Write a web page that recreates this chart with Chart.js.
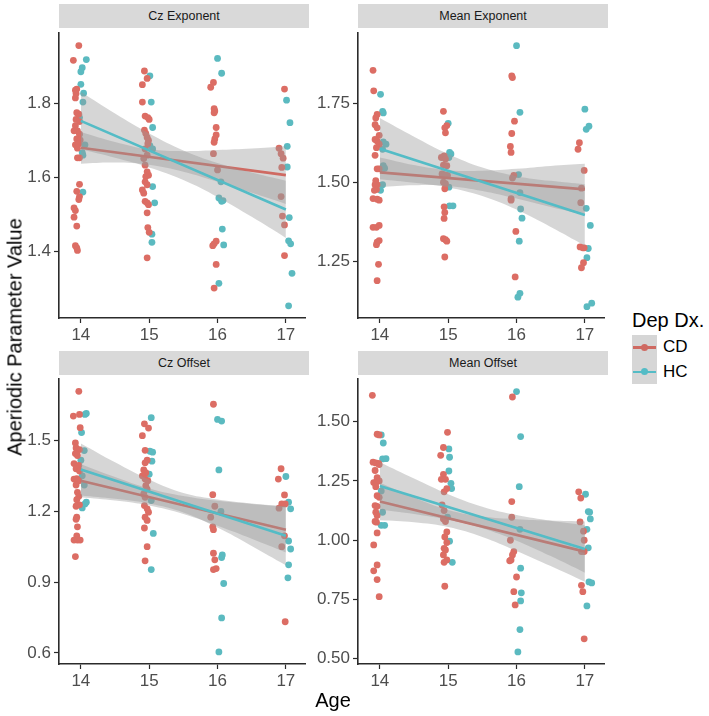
<!DOCTYPE html>
<html>
<head>
<meta charset="utf-8">
<script src="https://cdn.jsdelivr.net/npm/chart.js@4.4.1/dist/chart.umd.min.js"></script>
<style>
  body { margin: 0; background: #fff; }
  #fig { position: relative; width: 709px; height: 716px; background: #fff;
         font-family: "Liberation Sans", Arial, Helvetica, sans-serif; }
  #fig canvas { position: absolute; }
  .strip { position: absolute; height: 24px; width: 250px; background: #d9d9d9;
           color: #1a1a1a; font-size: 12.5px; line-height: 24px; text-align: center; }
  .title { position: absolute; color: #000; font-size: 20px; white-space: nowrap; }
  .key { position: absolute; left: 632px; width: 25px; height: 24.5px; background: #d6d6d6; }
  .key .ln { position: absolute; left: 1px; right: 1px; top: 11px; height: 2.5px; }
  .key .pt { position: absolute; left: 9px; top: 8.8px; width: 7px; height: 7px; border-radius: 50%; }
  .lab { position: absolute; left: 663px; font-size: 17px; color: #000; }
</style>
</head>
<body>
<div id="fig">
  <div class="strip" style="left:59px;top:4px">Cz Exponent</div>
  <div class="strip" style="left:358px;top:4px">Mean Exponent</div>
  <div class="strip" style="left:59px;top:351px">Cz Offset</div>
  <div class="strip" style="left:358px;top:351px">Mean Offset</div>

  <canvas id="p1" width="309" height="316" style="left:0;top:29px"></canvas>
  <canvas id="p2" width="299" height="316" style="left:309px;top:29px"></canvas>
  <canvas id="p3" width="309" height="316" style="left:0;top:375px"></canvas>
  <canvas id="p4" width="299" height="316" style="left:309px;top:375px"></canvas>

  <div class="title" style="left:15px;top:337px;transform:translate(-50%,-50%) rotate(-90deg)">Aperiodic Parameter Value</div>
  <div class="title" style="left:333px;top:700px;transform:translate(-50%,-50%)">Age</div>

  <div class="title" style="left:632px;top:320px;transform:translateY(-50%)">Dep Dx.</div>
  <div class="key" style="top:335px"><div class="ln" style="background:#cf6a62"></div><div class="pt" style="background:#cf6a62"></div></div>
  <div class="key" style="top:359.5px"><div class="ln" style="background:#54bcc6"></div><div class="pt" style="background:#54bcc6"></div></div>
  <div class="lab" style="top:347px;transform:translateY(-50%)">CD</div>
  <div class="lab" style="top:372px;transform:translateY(-50%)">HC</div>
</div>

<script>
// ages on the x axis and the ages where the confidence bands were read
const ages = [14, 15, 16, 17];
const bandAges = [14, 14.5, 15, 15.5, 16, 16.5, 17];

// y tick labels for each facet
const czExpTicks = [1.4, 1.6, 1.8];
const meanExpTicks = [1.25, 1.5, 1.75];
const czOffTicks = [0.6, 0.9, 1.2, 1.5];
const meanOffTicks = [0.5, 0.75, 1.0, 1.25, 1.5];

// ---- Cz Exponent: [jittered age, value]
const czExpCD = [[13.97,1.957],[13.89,1.917],[13.94,1.839],[13.92,1.836],[13.93,1.827],[13.92,1.815],[13.94,1.775],[13.97,1.771],[13.93,1.757],[13.98,1.751],[13.92,1.74],[13.90,1.726],[13.95,1.726],[13.98,1.717],[13.94,1.704],[13.99,1.701],[13.92,1.688],[13.97,1.691],[13.95,1.679],[13.95,1.653],[13.98,1.653],[13.98,1.581],[13.94,1.562],[13.98,1.548],[13.97,1.54],[13.90,1.517],[13.92,1.51],[13.90,1.492],[13.94,1.468],[13.92,1.415],[13.94,1.409],[13.95,1.402],
  [14.93,1.888],[14.97,1.868],[14.90,1.851],[14.90,1.804],[14.94,1.766],[14.98,1.762],[15.00,1.757],[14.93,1.728],[14.95,1.719],[14.97,1.708],[14.99,1.70],[14.98,1.691],[14.94,1.677],[14.97,1.66],[14.92,1.651],[14.94,1.633],[14.97,1.615],[14.99,1.606],[14.95,1.602],[14.94,1.588],[14.97,1.58],[14.90,1.566],[14.92,1.557],[14.94,1.535],[14.97,1.531],[14.99,1.526],[14.97,1.504],[14.98,1.464],[15.00,1.451],[14.97,1.382],
  [15.94,1.857],[15.90,1.844],[15.95,1.786],[15.96,1.78],[15.95,1.775],[15.98,1.735],[15.98,1.715],[15.96,1.704],[15.95,1.695],[15.94,1.664],[16.00,1.62],[15.93,1.415],[15.98,1.427],[15.95,1.42],[15.98,1.364],[15.95,1.30],
  [16.98,1.839],[16.90,1.679],[16.93,1.664],[16.96,1.652],[16.94,1.627],[16.93,1.548],[16.95,1.495],[16.98,1.471],[16.98,1.388]];
const czExpHC = [[14.08,1.919],[14.02,1.897],[14.00,1.886],[14.00,1.852],[14.04,1.828],[14.03,1.804],[13.98,1.762],[14.06,1.688],[14.02,1.667],[14.03,1.66],[14.03,1.56],
  [15.01,1.875],[15.03,1.804],[15.05,1.735],[15.01,1.686],[15.05,1.677],[15.05,1.575],[15.08,1.531],[15.04,1.446],[15.04,1.424],
  [16.00,1.922],[16.06,1.882],[16.05,1.588],[16.02,1.544],[16.06,1.535],[16.08,1.537],[16.07,1.46],[16.09,1.417],[16.02,1.313],
  [17.01,1.809],[17.06,1.748],[17.02,1.684],[17.02,1.628],[17.05,1.491],[17.04,1.428],[17.07,1.42],[17.09,1.34],[17.04,1.252]];
const czExpFitCD = [1.680, 1.606];   // at 14 and 17
const czExpFitHC = [1.753, 1.513];
const czExpHiCD = [1.723, 1.696, 1.676, 1.671, 1.674, 1.678, 1.684];
const czExpLoCD = [1.637, 1.640, 1.634, 1.615, 1.588, 1.558, 1.528];
const czExpHiHC = [1.831, 1.773, 1.719, 1.673, 1.639, 1.613, 1.591];
const czExpLoHC = [1.676, 1.653, 1.627, 1.593, 1.547, 1.493, 1.436];

// ---- Mean Exponent
const meanExpCD = [[13.90,1.856],[13.91,1.791],[13.96,1.716],[13.94,1.705],[13.93,1.684],[13.96,1.674],[13.99,1.65],[13.93,1.637],[13.96,1.632],[13.99,1.622],[13.95,1.611],[13.93,1.587],[13.96,1.544],[13.99,1.544],[13.94,1.507],[13.96,1.494],[13.93,1.494],[13.95,1.479],[13.92,1.476],[13.90,1.45],[13.96,1.448],[13.99,1.445],[13.90,1.359],[13.95,1.359],[13.99,1.365],[13.99,1.317],[13.96,1.312],[13.95,1.304],[13.98,1.242],[13.96,1.19],
  [14.93,1.726],[14.98,1.681],[14.95,1.674],[14.96,1.658],[14.90,1.58],[14.94,1.585],[14.96,1.575],[14.93,1.556],[14.98,1.554],[14.91,1.528],[14.95,1.525],[14.99,1.523],[14.93,1.502],[14.96,1.497],[14.95,1.481],[14.94,1.424],[14.95,1.406],[14.94,1.387],[14.93,1.323],[14.96,1.32],[14.98,1.315],[14.95,1.265],
  [15.93,1.838],[15.94,1.833],[15.97,1.695],[15.93,1.656],[15.91,1.615],[15.92,1.596],[15.96,1.523],[15.94,1.515],[15.92,1.45],[15.92,1.445],[15.99,1.346],[15.98,1.202],
  [16.92,1.627],[16.90,1.606],[16.99,1.539],[16.95,1.483],[16.94,1.437],[16.93,1.297],[16.97,1.294],[16.99,1.294],[16.98,1.247],[16.95,1.231]];
const meanExpHC = [[14.01,1.78],[14.04,1.726],[14.05,1.721],[14.05,1.629],[14.09,1.622],[14.04,1.606],[14.05,1.554],[14.07,1.546],[14.04,1.544],[14.04,1.494],[14.01,1.476],
  [15.00,1.688],[15.02,1.596],[15.04,1.591],[15.01,1.58],[15.01,1.486],[15.02,1.427],[15.07,1.427],
  [16.00,1.934],[16.05,1.723],[16.03,1.526],[16.05,1.469],[16.06,1.417],[16.08,1.388],[16.04,1.315],[16.05,1.15],[16.02,1.138],
  [17.00,1.733],[17.02,1.669],[17.06,1.679],[17.02,1.419],[17.08,1.365],[17.05,1.292],[17.03,1.263],[17.03,1.108],[17.10,1.119]];
const meanExpFitCD = [1.533, 1.479];
const meanExpFitHC = [1.608, 1.398];
const meanExpHiCD = [1.580, 1.556, 1.540, 1.538, 1.544, 1.553, 1.560];
const meanExpLoCD = [1.486, 1.492, 1.490, 1.474, 1.450, 1.423, 1.398];
const meanExpHiHC = [1.705, 1.646, 1.591, 1.548, 1.521, 1.506, 1.495];
const meanExpLoHC = [1.511, 1.500, 1.485, 1.458, 1.415, 1.360, 1.301];

// ---- Cz Offset
const czOffCD = [[13.97,1.708],[13.89,1.603],[13.98,1.61],[13.99,1.554],[13.92,1.489],[13.93,1.468],[13.98,1.461],[13.92,1.444],[13.95,1.436],[13.90,1.402],[13.97,1.394],[13.93,1.38],[13.98,1.37],[13.90,1.336],[13.94,1.338],[13.97,1.329],[13.93,1.311],[13.95,1.28],[13.97,1.263],[13.94,1.249],[13.98,1.227],[13.93,1.221],[13.94,1.175],[13.93,1.166],[13.95,1.134],[13.94,1.096],[13.90,1.078],[13.95,1.078],[13.99,1.078],[13.92,1.008],
  [14.93,1.57],[14.99,1.552],[14.90,1.52],[14.94,1.458],[14.97,1.416],[14.94,1.405],[14.92,1.375],[14.95,1.363],[14.90,1.35],[14.94,1.336],[14.98,1.329],[14.95,1.308],[14.97,1.294],[14.92,1.273],[14.94,1.259],[14.93,1.224],[14.97,1.21],[14.99,1.196],[14.94,1.175],[14.97,1.161],[14.93,1.129],[14.97,1.05],[14.94,0.99],
  [15.94,1.653],[15.93,1.27],[15.96,1.221],[15.90,1.175],[15.93,1.134],[15.94,1.122],[15.94,1.022],[15.96,0.994],[15.94,0.953],[15.98,0.957],
  [16.93,1.38],[16.89,1.336],[16.98,1.269],[16.94,1.231],[16.99,1.231],[16.90,1.213],[16.98,1.096],[16.94,1.05],[16.99,0.732]];
const czOffHC = [[14.06,1.61],[14.08,1.614],[14.01,1.533],[14.05,1.457],[14.00,1.416],[14.02,1.35],[14.05,1.311],[14.08,1.238],[14.06,1.231],[14.02,1.214],
  [15.03,1.596],[15.01,1.454],[15.05,1.45],[15.04,1.412],[15.00,1.357],[15.03,1.245],[15.06,1.106],[15.03,0.953],
  [16.00,1.589],[16.06,1.582],[16.02,1.375],[16.05,1.199],[16.07,1.015],[16.06,1.004],[16.09,0.894],[16.06,0.748],[16.02,0.604],
  [17.00,1.347],[17.04,1.238],[17.07,1.21],[17.04,1.074],[17.07,1.04],[17.04,0.973],[17.03,0.918]];
const czOffFitCD = [1.329, 1.122];
const czOffFitHC = [1.377, 1.096];
const czOffHiCD = [1.399, 1.345, 1.296, 1.264, 1.244, 1.231, 1.219];
const czOffLoCD = [1.259, 1.245, 1.224, 1.188, 1.138, 1.083, 1.025];
const czOffHiHC = [1.487, 1.407, 1.333, 1.277, 1.250, 1.233, 1.221];
const czOffLoHC = [1.267, 1.253, 1.233, 1.195, 1.131, 1.053, 0.971];

// ---- Mean Offset
const meanOffCD = [[13.89,1.611],[13.96,1.447],[13.99,1.444],[13.90,1.329],[13.94,1.326],[13.98,1.324],[13.99,1.319],[13.93,1.294],[13.96,1.264],[13.91,1.243],[13.95,1.246],[13.99,1.25],[13.94,1.226],[13.96,1.188],[13.99,1.181],[13.93,1.146],[13.96,1.143],[13.94,1.118],[13.96,1.104],[13.93,1.079],[13.95,1.076],[13.96,1.031],[13.91,0.98],[13.96,0.896],[13.91,0.871],[13.96,0.834],[13.99,0.762],
  [14.99,1.455],[14.93,1.391],[14.89,1.358],[14.93,1.278],[14.90,1.257],[14.96,1.257],[14.98,1.218],[14.94,1.204],[14.91,1.149],[14.94,1.125],[14.93,1.09],[14.96,1.079],[14.98,1.035],[14.95,1.014],[14.98,0.99],[14.94,0.966],[14.96,0.959],[14.93,0.938],[14.98,0.917],[14.94,0.907],[14.95,0.806],
  [15.94,1.604],[15.93,1.163],[15.93,1.097],[15.91,1.0],[15.96,0.952],[15.94,0.938],[15.92,0.917],[15.90,0.913],[16.00,0.845],[15.96,0.783],[15.98,0.727],
  [16.91,1.204],[16.94,1.178],[16.93,1.077],[16.98,1.038],[16.99,1.0],[16.95,0.952],[16.99,0.952],[16.95,0.81],[16.97,0.783],[16.99,0.584]];
const meanOffHC = [[14.02,1.444],[14.05,1.41],[14.04,1.343],[14.09,1.344],[14.02,1.208],[14.04,1.118],[14.02,1.063],[14.07,1.063],
  [15.01,1.385],[15.02,1.35],[15.01,1.292],[15.04,1.24],[15.05,1.218],[14.99,1.097],[15.02,0.996],[15.06,0.907],
  [16.00,1.627],[16.06,1.437],[16.04,1.226],[16.05,1.046],[16.06,0.882],[16.07,0.778],[16.06,0.744],[16.05,0.623],[16.02,0.529],
  [17.01,1.194],[17.05,1.121],[17.07,1.118],[17.08,1.09],[17.03,1.046],[17.05,0.968],[17.06,0.824],[17.10,0.82],[17.03,0.723]];
const meanOffFitCD = [1.163, 0.952];
const meanOffFitHC = [1.229, 0.963];
const meanOffHiCD = [1.242, 1.180, 1.128, 1.100, 1.089, 1.083, 1.079];
const meanOffLoCD = [1.084, 1.076, 1.056, 1.014, 0.955, 0.891, 0.825];
const meanOffHiHC = [1.329, 1.260, 1.194, 1.141, 1.106, 1.082, 1.063];
const meanOffLoHC = [1.129, 1.111, 1.086, 1.051, 0.998, 0.933, 0.863];

const cdPoint = '#dc6d64', hcPoint = '#5bbac0';
const cdLine = '#cf6a62', hcLine = '#54bcc6';
const bandFill = 'rgba(153,153,153,0.4)';
const axisCol = '#2b2b2b';
const font = '"Liberation Sans", Arial, Helvetica, sans-serif';

const xy = pairs => pairs.map(p => ({ x: p[0], y: p[1] }));
const band = vals => bandAges.map((a, i) => ({ x: a, y: vals[i] }));
const fit = v => [{ x: 14, y: v[0] }, { x: 17, y: v[1] }];

function panel(id, p) {
  const edge = { type: 'line', borderColor: 'rgba(0,0,0,0)', borderWidth: 0, pointRadius: 0, tension: 0.4 };
  const datasets = [
    { type: 'scatter', data: xy(p.cd), backgroundColor: cdPoint, borderWidth: 0, pointRadius: 3.4, order: 10 },
    { type: 'scatter', data: xy(p.hc), backgroundColor: hcPoint, borderWidth: 0, pointRadius: 3.4, order: 10 },
    Object.assign({}, edge, { data: band(p.hiCD), fill: '+1', backgroundColor: bandFill, order: 9 }),
    Object.assign({}, edge, { data: band(p.loCD), fill: false, order: 9 }),
    { type: 'line', data: fit(p.fitCD), borderColor: cdLine, borderWidth: 2.6, pointRadius: 0, order: 8 },
    Object.assign({}, edge, { data: band(p.hiHC), fill: '+1', backgroundColor: bandFill, order: 7 }),
    Object.assign({}, edge, { data: band(p.loHC), fill: false, order: 7 }),
    { type: 'line', data: fit(p.fitHC), borderColor: hcLine, borderWidth: 2.6, pointRadius: 0, order: 6 }
  ];
  const tickFont = { size: 17, family: font };
  new Chart(document.getElementById(id), {
    type: 'scatter',
    data: { datasets: datasets },
    options: {
      responsive: false,
      animation: false,
      devicePixelRatio: 1,
      layout: { padding: 0 },
      plugins: { legend: { display: false }, tooltip: { enabled: false } },
      scales: {
        x: {
          type: 'linear', min: 13.68, max: 17.28,
          afterBuildTicks: s => { s.ticks = ages.map(v => ({ value: v })); },
          afterFit: s => { s.height = 27; s.paddingLeft = 0; s.paddingRight = 0; },
          grid: { drawOnChartArea: false, tickLength: 5, tickColor: axisCol, tickWidth: 1.2 },
          border: { color: axisCol, width: 1.6 },
          ticks: { color: '#4d4d4d', font: tickFont, padding: 2, maxRotation: 0, autoSkip: false,
                   callback: v => String(v) }
        },
        y: {
          type: 'linear', min: p.min, max: p.max,
          afterBuildTicks: s => { s.ticks = p.ticks.map(v => ({ value: v })); },
          afterFit: s => { s.width = p.axisW; s.paddingTop = 0; s.paddingBottom = 0; },
          grid: { drawOnChartArea: false, tickLength: 5, tickColor: axisCol, tickWidth: 1.2 },
          border: { color: axisCol, width: 1.6 },
          ticks: { color: '#4d4d4d', font: tickFont, padding: 3, autoSkip: false,
                   callback: v => v.toFixed(p.dec) }
        }
      }
    }
  });
}

panel('p1', { cd: czExpCD, hc: czExpHC, fitCD: czExpFitCD, fitHC: czExpFitHC,
  hiCD: czExpHiCD, loCD: czExpLoCD, hiHC: czExpHiHC, loHC: czExpLoHC,
  ticks: czExpTicks, dec: 1, min: 1.219, max: 1.991, axisW: 59 });
panel('p2', { cd: meanExpCD, hc: meanExpHC, fitCD: meanExpFitCD, fitHC: meanExpFitHC,
  hiCD: meanExpHiCD, loCD: meanExpLoCD, hiHC: meanExpHiHC, loHC: meanExpLoHC,
  ticks: meanExpTicks, dec: 2, min: 1.072, max: 1.974, axisW: 49 });
panel('p3', { cd: czOffCD, hc: czOffHC, fitCD: czOffFitCD, fitHC: czOffFitHC,
  hiCD: czOffHiCD, loCD: czOffLoCD, hiHC: czOffHiHC, loHC: czOffLoHC,
  ticks: czOffTicks, dec: 1, min: 0.553, max: 1.76, axisW: 59 });
panel('p4', { cd: meanOffCD, hc: meanOffHC, fitCD: meanOffFitCD, fitHC: meanOffFitHC,
  hiCD: meanOffHiCD, loCD: meanOffLoCD, hiHC: meanOffHiHC, loHC: meanOffLoHC,
  ticks: meanOffTicks, dec: 2, min: 0.478, max: 1.68, axisW: 49 });
</script>
</body>
</html>
